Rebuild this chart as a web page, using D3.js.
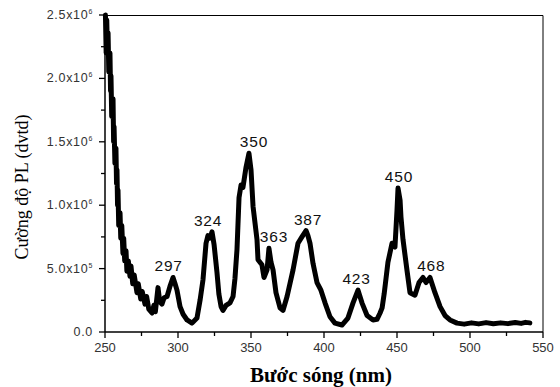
<!DOCTYPE html>
<html>
<head>
<meta charset="utf-8">
<script src="https://cdn.jsdelivr.net/npm/d3@7"></script>
<style>
  body { margin: 0; background: #fff; }
  svg { display: block; }
</style>
</head>
<body>
<svg id="chart"></svg>
<script>
// PL spectrum (intensity in units of 10^6)
const wavelength = [
  250.3, 250.8, 251.2, 251.6, 252.1, 252.6, 253.4, 253.8, 254.1, 254.6, 255.5,
  255.9, 256.2, 256.8, 257.5, 257.9, 258.2, 258.6, 258.9, 259.4, 260.3,
  260.8, 261.5, 262.3, 262.8, 263.5, 264.4, 265.0, 266.0, 267.1, 267.8,
  269.0, 270.0, 271.9, 272.8, 274.5, 275.5, 277.4, 278.5, 280.0, 282.2,
  283.5, 284.5, 286.3, 287.5, 289.0, 290.5, 292.5, 294.5, 296.6, 298.0,
  299.3, 301.4, 303.5, 306.2, 309.6, 313.0, 315.1, 317.1, 319.2, 320.5,
  321.9, 323.3, 324.7, 326.7, 328.0, 329.5, 330.8, 332.9, 335.6, 337.7,
  339.0, 340.4, 341.8, 343.2, 344.5, 346.6, 348.6, 350.0, 351.4, 354.1,
  354.8, 357.5, 358.9, 361.0, 362.3, 363.7, 365.1, 367.1, 369.9, 371.9,
  374.7, 378.8, 382.2, 384.9, 387.7, 389.0, 390.4, 392.5, 395.2, 397.9,
  400.7, 404.1, 407.5, 412.3, 416.4, 419.9, 423.3, 426.0, 429.5, 433.6,
  436.3, 438.4, 439.8, 441.2, 443.8, 446.6, 448.6, 450.0, 450.7, 452.1,
  452.7, 454.1, 456.8, 458.9, 462.3, 465.1, 467.8, 469.9, 472.6, 476.0,
  479.5, 482.9, 486.3, 491.1, 496.0, 501.0, 506.0, 511.0, 516.0, 521.0,
  526.0, 531.0, 535.0, 538.0, 541.0
];
const intensity = [
  2.50, 2.20, 2.46, 2.25, 2.36, 2.05, 2.20, 1.90, 2.02, 1.70, 1.84,
  1.50, 1.62, 1.33, 1.45, 1.17, 1.28, 1.00, 1.12, 0.84, 0.94,
  0.74, 0.84, 0.62, 0.74, 0.56, 0.64, 0.48, 0.56, 0.44, 0.52,
  0.38, 0.45, 0.31, 0.38, 0.26, 0.32, 0.22, 0.28, 0.18, 0.15,
  0.21, 0.16, 0.35, 0.24, 0.22, 0.27, 0.28, 0.36, 0.43, 0.38,
  0.33, 0.20, 0.14, 0.095, 0.07, 0.11, 0.25, 0.41, 0.70, 0.76,
  0.74, 0.79, 0.69, 0.47, 0.30, 0.20, 0.17, 0.21, 0.23, 0.28,
  0.42, 0.65, 1.06, 1.16, 1.14, 1.30, 1.41, 1.28, 0.99, 0.73,
  0.57, 0.53, 0.43, 0.49, 0.66, 0.55, 0.49, 0.31, 0.19, 0.17,
  0.28, 0.49, 0.70, 0.75, 0.80, 0.76, 0.70, 0.54, 0.39, 0.33,
  0.23, 0.12, 0.07, 0.055, 0.11, 0.23, 0.33, 0.23, 0.13, 0.095,
  0.10, 0.15, 0.19, 0.30, 0.55, 0.70, 0.67, 0.96, 1.135, 1.04,
  0.91, 0.73, 0.49, 0.31, 0.29, 0.39, 0.43, 0.39, 0.43, 0.31,
  0.20, 0.13, 0.095, 0.07, 0.062, 0.072, 0.064, 0.074, 0.065, 0.072,
  0.066, 0.075, 0.068, 0.076, 0.072
];

// labelled peaks
const peakNm = [297, 324, 350, 363, 387, 423, 450, 468];
const peakVal = [0.43, 0.79, 1.41, 0.66, 0.80, 0.33, 1.135, 0.43];
const peakShift = [-5, -5, 3, 4, 3, -1, 2, 8];   // small horizontal nudges, px

const xTicks = [250, 300, 350, 400, 450, 500, 550];
const yTicks = [0, 0.5, 1.0, 1.5, 2.0, 2.5];
const yTickMantissa = ['0.0', '5.0', '1.0', '1.5', '2.0', '2.5'];
const yTickExponent = [null, '5', '6', '6', '6', '6'];

const W = 560, H = 387;
const margin = {top: 15, right: 17, bottom: 55, left: 105};
const width = W - margin.left - margin.right;
const height = H - margin.top - margin.bottom;

const svg = d3.select('#chart').attr('width', W).attr('height', H);
const g = svg.append('g').attr('transform', 'translate(' + margin.left + ',' + margin.top + ')');

const x = d3.scaleLinear().domain([250, 550]).range([0, width]);
const y = d3.scaleLinear().domain([0, 2.5]).range([height, 0]);

// frame (top and right)
g.append('path')
  .attr('d', 'M0,0.5H' + width + 'V' + height)
  .attr('fill', 'none')
  .attr('stroke', '#000')
  .attr('stroke-width', 1);

// minor ticks
const minorX = d3.range(275, 550, 50);
const minorY = d3.range(0.25, 2.5, 0.5);

const xAxis = g.append('g').attr('transform', 'translate(0,' + height + ')');
xAxis.append('line').attr('x1', 0).attr('x2', width).attr('stroke', '#000').attr('stroke-width', 1.5);
xAxis.selectAll('.maj').data(xTicks).enter().append('line')
  .attr('x1', d => x(d)).attr('x2', d => x(d)).attr('y1', 0).attr('y2', 6)
  .attr('stroke', '#000').attr('stroke-width', 1.3);
xAxis.selectAll('.min').data(minorX).enter().append('line')
  .attr('x1', d => x(d)).attr('x2', d => x(d)).attr('y1', 0).attr('y2', 4)
  .attr('stroke', '#000').attr('stroke-width', 1.3);
xAxis.selectAll('text').data(xTicks).enter().append('text')
  .attr('x', d => x(d)).attr('y', 20)
  .attr('text-anchor', 'middle')
  .style('font-family', 'Arial, "Liberation Sans", sans-serif')
  .style('font-size', '13px')
  .style('fill', '#333')
  .text(d => d);

const yAxis = g.append('g');
yAxis.append('line').attr('y1', 0).attr('y2', height).attr('stroke', '#000').attr('stroke-width', 1.5);
yAxis.selectAll('.maj').data(yTicks).enter().append('line')
  .attr('y1', d => y(d)).attr('y2', d => y(d)).attr('x1', 0).attr('x2', -6)
  .attr('stroke', '#000').attr('stroke-width', 1.3);
yAxis.selectAll('.min').data(minorY).enter().append('line')
  .attr('y1', d => y(d)).attr('y2', d => y(d)).attr('x1', 0).attr('x2', -4)
  .attr('stroke', '#000').attr('stroke-width', 1.3);
const yLab = yAxis.selectAll('text').data(yTicks).enter().append('text')
  .attr('x', -12).attr('y', d => y(d) + 4)
  .attr('text-anchor', 'end')
  .style('font-family', 'Arial, "Liberation Sans", sans-serif')
  .style('font-size', '12.5px')
  .style('letter-spacing', '0.7px')
  .style('fill', '#333');
yLab.each(function(d, i) {
  const t = d3.select(this);
  if (yTickExponent[i] === null) {
    t.text(yTickMantissa[i]);
  } else {
    t.append('tspan').text(yTickMantissa[i] + 'x10');
    t.append('tspan').attr('dy', -5).style('font-size', '7px').text(yTickExponent[i]);
  }
});

// spectrum
const line = d3.line()
  .x((d, i) => x(wavelength[i]))
  .y((d, i) => y(intensity[i]));

g.append('path')
  .datum(intensity)
  .attr('d', line)
  .attr('fill', 'none')
  .attr('stroke', '#000')
  .attr('stroke-width', 5)
  .attr('stroke-linejoin', 'round')
  .attr('stroke-linecap', 'round');

// peak labels
g.selectAll('.peak').data(peakNm).enter().append('text')
  .attr('x', (d, i) => x(d) + peakShift[i])
  .attr('y', (d, i) => y(peakVal[i]) - 6)
  .attr('text-anchor', 'middle')
  .style('font-family', 'Arial, "Liberation Sans", sans-serif')
  .style('font-size', '15.5px')
  .style('letter-spacing', '0.8px')
  .style('fill', '#111')
  .text(d => d);

// axis titles
svg.append('text')
  .attr('x', margin.left + x(400) - 3)
  .attr('y', 382)
  .attr('text-anchor', 'middle')
  .style('font-family', '"Liberation Serif", "Times New Roman", serif')
  .style('font-weight', 'bold')
  .style('font-size', '21px')
  .text('Bước sóng (nm)');

svg.append('text')
  .attr('transform', 'translate(28,' + 187 + ') rotate(-90)')
  .attr('text-anchor', 'middle')
  .style('font-family', '"Liberation Serif", "Times New Roman", serif')
  .style('font-size', '18px')
  .text('Cường độ PL (dvtd)');
</script>
</body>
</html>
